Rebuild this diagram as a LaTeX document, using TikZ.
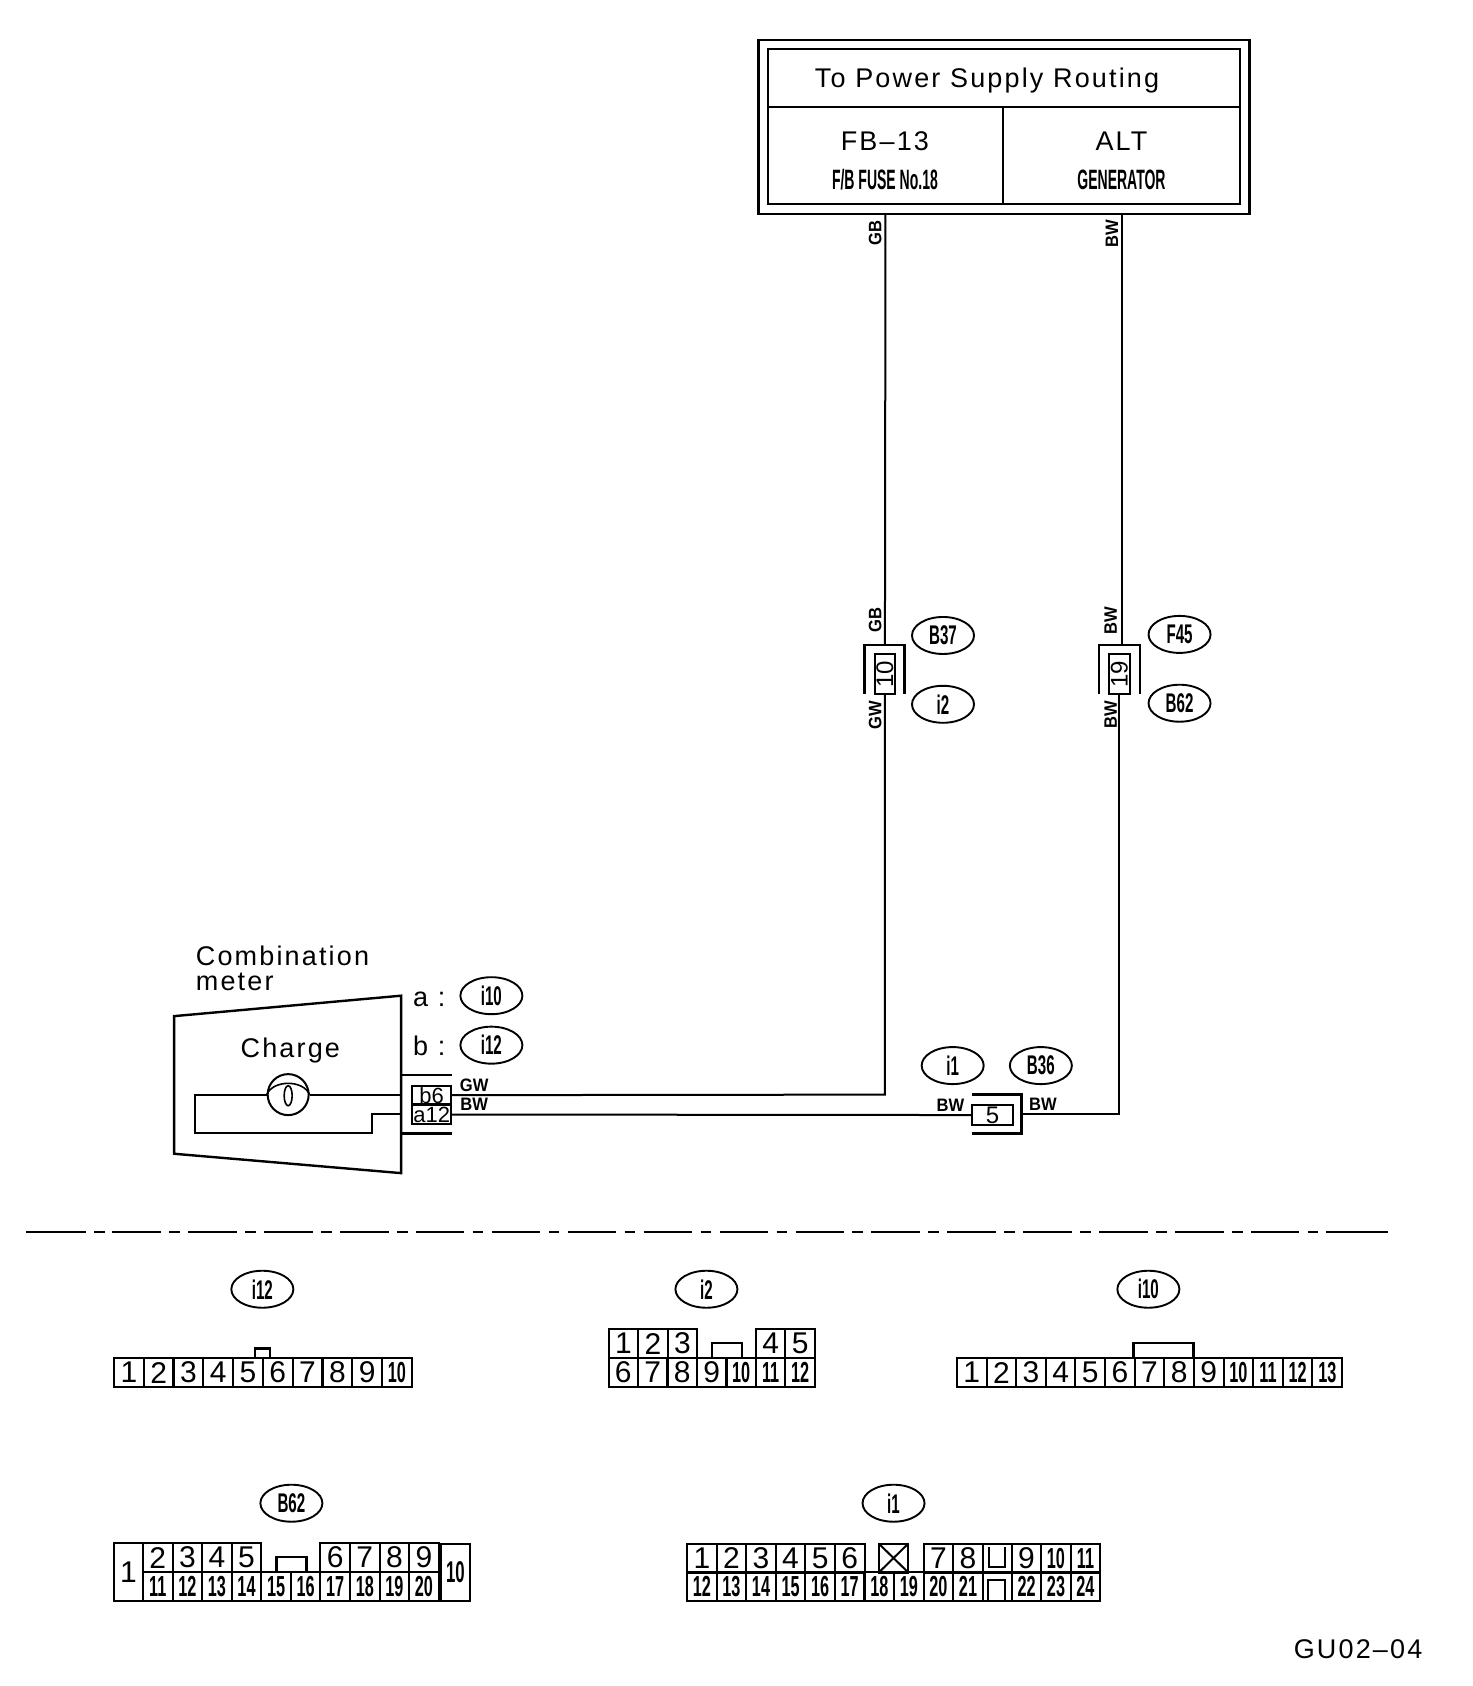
\documentclass[tikz,border=0pt]{standalone}
\usepackage{fontspec}
\setmainfont{Liberation Sans}
\newfontfamily\spacedfont[LetterSpace=8]{Liberation Sans}
\newfontfamily\narrowfont[FakeStretch=0.56]{Liberation Sans Bold}
\newfontfamily\tightfont[FakeStretch=0.5]{Liberation Sans Bold}
\newfontfamily\tagfont[FakeStretch=0.92]{Liberation Sans Bold}
\usetikzlibrary{shapes.geometric}
\usetikzlibrary{positioning}
\tikzset{
    wire/.style = {line width=2pt,draw=black},
    shell/.style = {line width=2.4pt,draw=black},
    cell/.style = {rectangle, line width=2pt, draw=black, inner sep=0pt, outer sep=0pt},
    pinbox/.style = {cell, minimum width=29.6pt, minimum height=29pt, font=\fontsize{30}{30}\selectfont},
    pinboxn/.style = {cell, minimum width=29.6pt, minimum height=29pt, font=\fontsize{29}{29}\narrowfont},
    tagoval/.style = {ellipse, line width=1.9pt, draw=black, inner sep=0pt, minimum width=62pt, minimum height=37pt, font=\fontsize{27}{27}\narrowfont},
    wiretag/.style = {inner sep=0pt, font=\fontsize{18}{18}\tagfont},
    wiretagv/.style = {wiretag, rotate=90},
    bigtext/.style = {inner sep=0pt, font=\fontsize{27}{27}\spacedfont},
    smalltext/.style = {inner sep=0pt, font=\fontsize{28}{28}\tightfont}
}
\begin{document}
\begin{tikzpicture}[x=1.0752pt,y=-1.0752pt]
\useasboundingbox (0,0) rectangle (1369,1568);
%
% power supply box
\node[cell, line width=2.6pt, minimum width=491pt, minimum height=174pt] at (933.5,118) (outerbox) {};
\node[cell, minimum width=472pt, minimum height=58pt] at (933.5,73) (titlecell) {};
\node[cell, minimum width=235.5pt, minimum height=97pt] at (823.5,145) (fusecell) {};
\node[cell, minimum width=236.5pt, minimum height=97pt] at (1043,145) (gencell) {};
\node[bigtext] at (918,75) (titletext) {To Power Supply Routing};
\node[bigtext] at (823,131) (fbtext) {FB–13};
\node[smalltext] at (823,167) (fusetext) {F/B FUSE No.18};
\node[bigtext] at (1043,131) (alttext) {ALT};
\node[smalltext] at (1043,167) (gentext) {GENERATOR};
%
% in-line connectors
\node[cell, minimum width=20.4pt, minimum height=40pt] at (823,627) (jten) {};
\node[inner sep=0pt, rotate=90, font=\fontsize{24}{24}\selectfont] at (jten.center) (jtentext) {10};
\node[cell, minimum width=20.4pt, minimum height=40pt] at (1041,627) (jnine) {};
\node[inner sep=0pt, rotate=90, font=\fontsize{24}{24}\selectfont] at (jnine.center) (jninetext) {19};
\node[cell, minimum width=41pt, minimum height=20pt] at (923,1037) (jfive) {};
\node[inner sep=0pt, font=\fontsize{24}{24}\selectfont] at (jfive.center) (jfivetext) {5};
\draw[shell] (804,645) -- (804,600) -- (841,600) -- (841,645);
\draw[shell] (1022,645) -- (1022,600) -- (1060,600) -- (1060,645);
\draw[shell] (904,1018) -- (950,1018) -- (950,1054) -- (904,1054);
\coordinate (tenin) at (823,600);
\coordinate (ninein) at (1041,600);
\coordinate (fiveout) at (950,1036);
%
% ovals
\node[tagoval] at (877,591) (ovbthirtyseven) {B37};
\node[tagoval] at (877,655) (ovitwo) {i2};
\node[tagoval] at (1097,590) (ovffortyfive) {F45};
\node[tagoval] at (1097,654) (ovbsixtytwo) {B62};
\node[tagoval] at (886,991) (oviione) {i1};
\node[tagoval] at (968,991) (ovbthirtysix) {B36};
\node[tagoval] at (457,926) (ovaten) {i10};
\node[tagoval] at (457,972) (ovbtwelve) {i12};
%
% wire labels
\node[wiretagv] at (814,217) (lgbone) {GB};
\node[wiretagv] at (1034,217) (lbwone) {BW};
\node[wiretagv] at (814,577) (lgbtwo) {GB};
\node[wiretagv] at (1033,577) (lbwtwo) {BW};
\node[wiretagv] at (814,665) (lgw) {GW};
\node[wiretagv] at (1033,665) (lbwthree) {BW};
\node[wiretag] at (441,1009) (lgwm) {GW};
\node[wiretag] at (441,1027) (lbwm) {BW};
\node[wiretag] at (884,1028) (lbwl) {BW};
\node[wiretag] at (970,1027) (lbwr) {BW};
%
% combination meter
\draw[shell] (162,945) -- (373,926) -- (373,1091) -- (162,1073) -- cycle;
\draw[shell] (373,1000) -- (420,1000);
\draw[shell] (373,1054) -- (420,1054);
\node[cell, minimum width=39.5pt, minimum height=18.5pt, font=\fontsize{22}{22}\selectfont] at (401.5,1018.5) (pinbsix) {b6};
\node[cell, minimum width=39.5pt, minimum height=19.5pt, font=\fontsize{22}{22}\selectfont] at (401.5,1036.5) (pinatwelve) {a12};
\node[circle, line width=2pt, draw=black, inner sep=0pt, minimum size=41pt] at (268,1018) (lamp) {};
\node[ellipse, line width=1.6pt, draw=black, inner sep=0pt, minimum width=8pt, minimum height=20pt] at (268,1019) (filament) {};
\draw[line width=1.6pt] (lamp.west) .. controls (254,1004) and (282,1004) .. (lamp.east);
\coordinate (meterb) at (373,1018);
\coordinate (metera) at (373,1036);
\draw[wire] (lamp.east) -- (meterb);
\draw[wire] (lamp.west) -- (181,1018) -- (181,1054) -- (346,1054) -- (346,1036) -- (metera);
\node[bigtext, anchor=west] at (182,889) (combtext) {Combination};
\node[bigtext, anchor=west] at (182,913) (metertext) {meter};
\node[bigtext] at (270,977) (chargetext) {Charge};
\node[bigtext, anchor=west] at (384,929) (atext) {a :};
\node[bigtext, anchor=west] at (384,973) (btext) {b :};
%
% wiring
\draw[wire] (fusecell.south |- outerbox.south) -- (tenin);
\draw[wire] (gencell.south |- outerbox.south) -- (gencell.south |- ninein) -- (ninein);
\draw[wire] (jten.south) -- (823,1018) -- (pinbsix.east);
\draw[wire] (jnine.south) -- (1041,1036) -- (fiveout);
\draw[wire] (jfive.west) -- (pinatwelve.east);
%
% divider
\coordinate (divl) at (24,1145.5);
\coordinate (divla) at (80,1145.5);
\coordinate (divlb) at (87.5,1145.5);
\coordinate (divlc) at (97.5,1145.5);
\coordinate (divld) at (104.5,1145.5);
\coordinate (divre) at (1233,1145.5);
\coordinate (divr) at (1291,1145.5);
\draw[line width=2.2pt] (divl) -- (divla);
\draw[line width=2.2pt] (divlb) -- (divlc);
\draw[line width=2.2pt, dash pattern=on 48.5pt off 8.4pt on 10.6pt off 8.4pt] (divld) -- (divre);
\draw[line width=2.2pt] (divre) -- (divr);
%
% connector i12
\node[tagoval] at (244,1199) (ovlowtwelve) {i12};
\foreach \n in {1,...,9}
  \node[pinbox] at ({106+27.7*(\n-0.5)},1276.5) (pa\n) {\n};
\node[pinboxn] at ({106+27.7*9.5},1276.5) (pa10) {10};
\draw[shell] (237,1263) -- (237,1254) -- (251,1254) -- (251,1263);
%
% connector i2
\node[tagoval] at (657,1199) (ovlowtwo) {i2};
\foreach \n in {1,2,3}
  \node[pinbox] at ({566+27.5*(\n-0.5)},1249.5) (pb\n) {\n};
\foreach \n in {4,5}
  \node[pinbox] at ({703+27.5*(\n-3.5)},1249.5) (pb\n) {\n};
\foreach \n in {6,...,9}
  \node[pinbox] at ({566+27.4*(\n-5.5)},1276.5) (pb\n) {\n};
\foreach \n in {10,11,12}
  \node[pinboxn] at ({566+27.4*(\n-5.5)},1276.5) (pb\n) {\n};
\draw[shell] (662,1263) -- (662,1249) -- (690,1249) -- (690,1263);
%
% connector i10
\node[tagoval] at (1068,1199) (ovlowten) {i10};
\foreach \n in {1,...,9}
  \node[pinbox] at ({890+27.55*(\n-0.5)},1276.5) (pc\n) {\n};
\foreach \n in {10,...,13}
  \node[pinboxn] at ({890+27.55*(\n-0.5)},1276.5) (pc\n) {\n};
\draw[shell] (1054,1263) -- (1054,1249) -- (1110,1249) -- (1110,1263);
%
% connector B62
\node[tagoval] at (271,1398) (ovlowbsixtytwo) {B62};
\node[cell, minimum width=29pt, minimum height=58pt, font=\fontsize{30}{30}\selectfont] at (119.5,1462) (pd1) {1};
\foreach \n in {2,...,5}
  \node[pinbox] at ({133+27.5*(\n-1.5)},1448.5) (pd\n) {\n};
\foreach \n in {6,...,9}
  \node[pinbox] at ({298+27.5*(\n-5.5)},1448.5) (pd\n) {\n};
\node[cell, minimum width=29pt, minimum height=57pt, font=\fontsize{30}{30}\narrowfont] at (423.5,1462.5) (pd10) {10};
\foreach \n in {11,...,20}
  \node[pinboxn] at ({133+27.5*(\n-10.5)},1475.5) (pd\n) {\n};
\draw[shell] (257,1462) -- (257,1448) -- (285,1448) -- (285,1462);
%
% connector i1
\node[tagoval] at (831,1398) (ovlowione) {i1};
\foreach \n in {1,...,6}
  \node[pinbox] at ({639+27.5*(\n-0.5)},1449) (pe\n) {\n};
\node[pinbox] at (831,1449) (pex) {};
\draw[line width=2pt] (pex.north west) -- (pex.south east);
\draw[line width=2pt] (pex.north east) -- (pex.south west);
\foreach \n in {7,8}
  \node[pinbox] at ({859+27.5*(\n-6.5)},1449) (pe\n) {\n};
\node[pinbox] at (927.5,1449) (peu) {};
\foreach \n in {9}
  \node[pinbox] at (954.5,1449) (pe\n) {\n};
\node[pinboxn] at (982,1449) (pe10) {10};
\node[pinboxn] at (1009.5,1449) (pe11) {11};
\foreach \n in {12,...,21}
  \node[pinboxn] at ({639+27.5*(\n-11.5)},1475.5) (pe\n) {\n};
\node[pinbox] at (927.5,1475.5) (pen) {};
\foreach \n in {22,23,24}
  \node[pinboxn] at ({941+27.4*(\n-21.5)},1475.5) (pe\n) {\n};
\draw[line width=2pt] (920,1439) -- (920,1457) -- (935,1457) -- (935,1439);
\draw[line width=2pt] (919,1489) -- (919,1469) -- (935,1469) -- (935,1489);
%
\node[bigtext, anchor=east] at (1323,1534) (drawingcode) {GU02–04};
\end{tikzpicture}
\end{document}
